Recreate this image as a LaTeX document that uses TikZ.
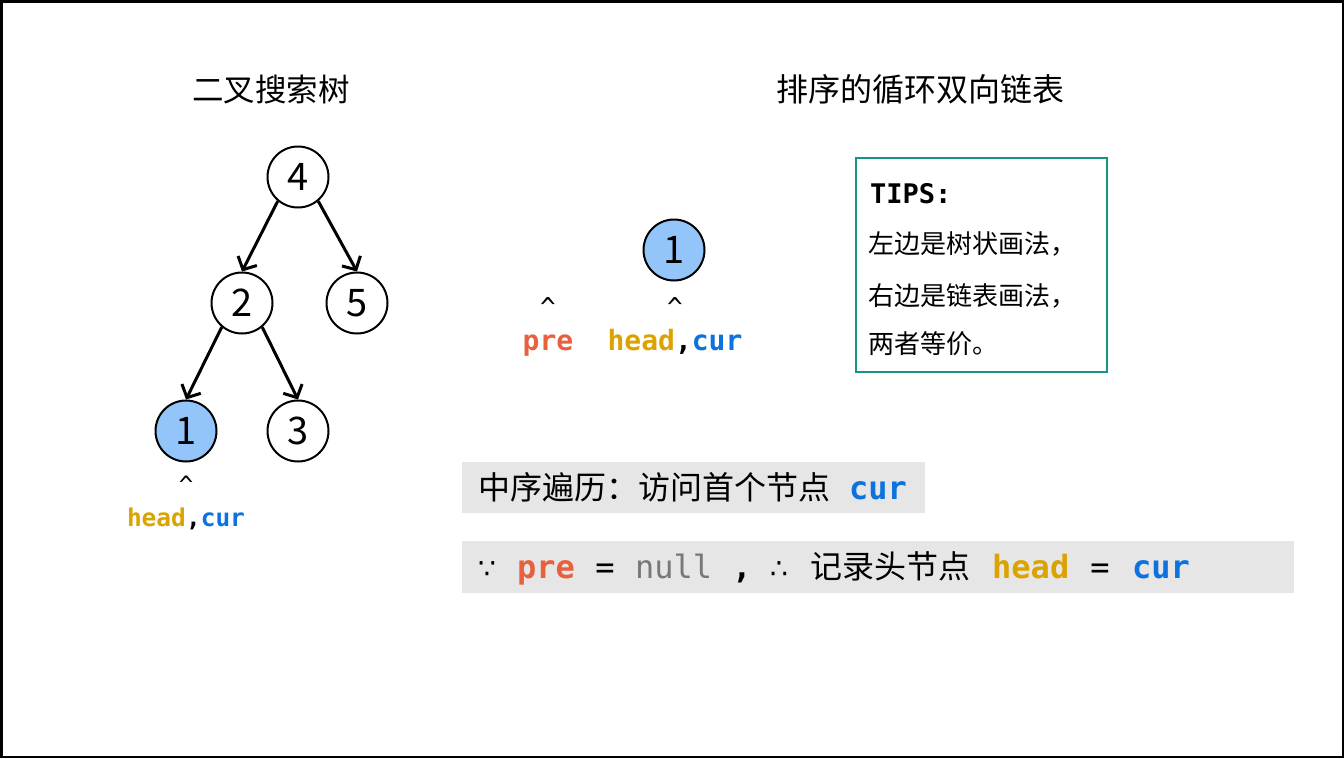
\documentclass[tikz,border=0pt]{standalone}
\usepackage{fontspec}
\setmainfont{Noto Sans CJK SC}
\setmonofont{DejaVu Sans Mono}
\newfontfamily\dvs{DejaVu Sans}
\usetikzlibrary{arrows.meta}
\definecolor{headc}{RGB}{218,163,0}
\definecolor{curc}{RGB}{12,114,222}
\definecolor{prec}{RGB}{232,96,62}
\definecolor{nullc}{RGB}{120,120,120}
\definecolor{nodeblue}{RGB}{147,197,250}
\definecolor{tealc}{RGB}{22,150,130}
\definecolor{boxgray}{RGB}{230,230,230}
\newcommand\myfs[1]{\fontsize{#1}{#1}\selectfont}
\begin{document}
\begin{tikzpicture}[x=1pt,y=-1pt,
  tnode/.style={circle,draw,line width=2,minimum size=61,inner sep=0,font=\myfs{38},fill=white},
  hl/.style={tnode,fill=nodeblue},
  edge/.style={line width=3,-{Straight Barb[length=10,width=21,line width=3]}},
  txt/.style={inner sep=0,anchor=base},
  txtw/.style={inner sep=0,anchor=base west},
  mono/.style={font=\ttfamily\bfseries\myfs{#1}},
]
\useasboundingbox (0,0) rectangle (1344,758);
\draw[line width=2.5] (1.25,1.25) rectangle (1342.75,756.75);

% titles
\node[txt,font=\myfs{31.5}] (t1) at (271,101) {二叉搜索树};
\node[txt,font=\myfs{32}] (t2) at (920,101) {排序的循环双向链表};

% tree
\node[tnode] (n4) at (298,177) {4};
\node[tnode] (n2) at (242,303) {2};
\node[tnode] (n5) at (357,303) {5};
\node[hl]    (n1) at (186,431) {1};
\node[tnode] (n3) at (298,431) {3};
\draw[edge] (n4.-130) -- (n2.north);
\draw[edge] (n4.-50) -- (n5.north);
\draw[edge] (n2.-130) -- (n1.north);
\draw[edge] (n2.-50) -- (n3.north);
\node[txt,font=\ttfamily\myfs{24}] (c1) at (186,493) {\^{}};
\node[txt,mono=24.5] (hc1) at (186,526) {\textcolor{headc}{head},\textcolor{curc}{cur}};

% list
\node[hl] (l1) at (674,250) {1};
\node[txt,font=\ttfamily\myfs{26}] (c2) at (548,316) {\^{}};
\node[txt,font=\ttfamily\myfs{26}] (c3) at (675,316) {\^{}};
\node[txt,mono=28,text=prec] (pre1) at (548,350) {pre};
\node[txt,mono=28] (hc2) at (675,350) {\textcolor{headc}{head},\textcolor{curc}{cur}};

% tips
\draw[tealc,line width=1.8] (856,158) rectangle (1107,372);
\node[txtw,mono=27] (tips) at (870,203) {TIPS:};
\node[txtw,font=\myfs{26}] (tl1) at (868,253) {左边是树状画法，};
\node[txtw,font=\myfs{26}] (tl2) at (868,305) {右边是链表画法，};
\node[txtw,font=\myfs{26}] (tl3) at (868,353) {两者等价。};

% box 1
\fill[boxgray] (462,462) rectangle (925,513);
\node[txtw,font=\myfs{32}] (b1) at (478,499) {中序遍历：访问首个节点};
\node[txtw,mono=32,text=curc] (b1c) at (849,499) {cur};

% box 2
\fill[boxgray] (462,541) rectangle (1294,593);
\node[txt,font=\dvs\myfs{28}] (because) at (487,578) {∵};
\node[txtw,mono=32,text=prec] (b2p) at (517,578) {pre};
\node[txt,font=\ttfamily\myfs{32}] (eq1) at (605,578) {=};
\node[txtw,font=\ttfamily\myfs{32},text=nullc] (b2n) at (635,578) {null};
\node[txt,font=\ttfamily\bfseries\myfs{32}] (comma) at (742,578) {,};
\node[txt,font=\dvs\myfs{28}] (therefore) at (779,578) {∴};
\node[txtw,font=\myfs{32}] (b2t) at (810,578) {记录头节点};
\node[txtw,mono=32,text=headc] (b2h) at (992,578) {head};
\node[txt,font=\ttfamily\myfs{32}] (eq2) at (1100,578) {=};
\node[txtw,mono=32,text=curc] (b2c) at (1132,578) {cur};
\end{tikzpicture}
\end{document}
